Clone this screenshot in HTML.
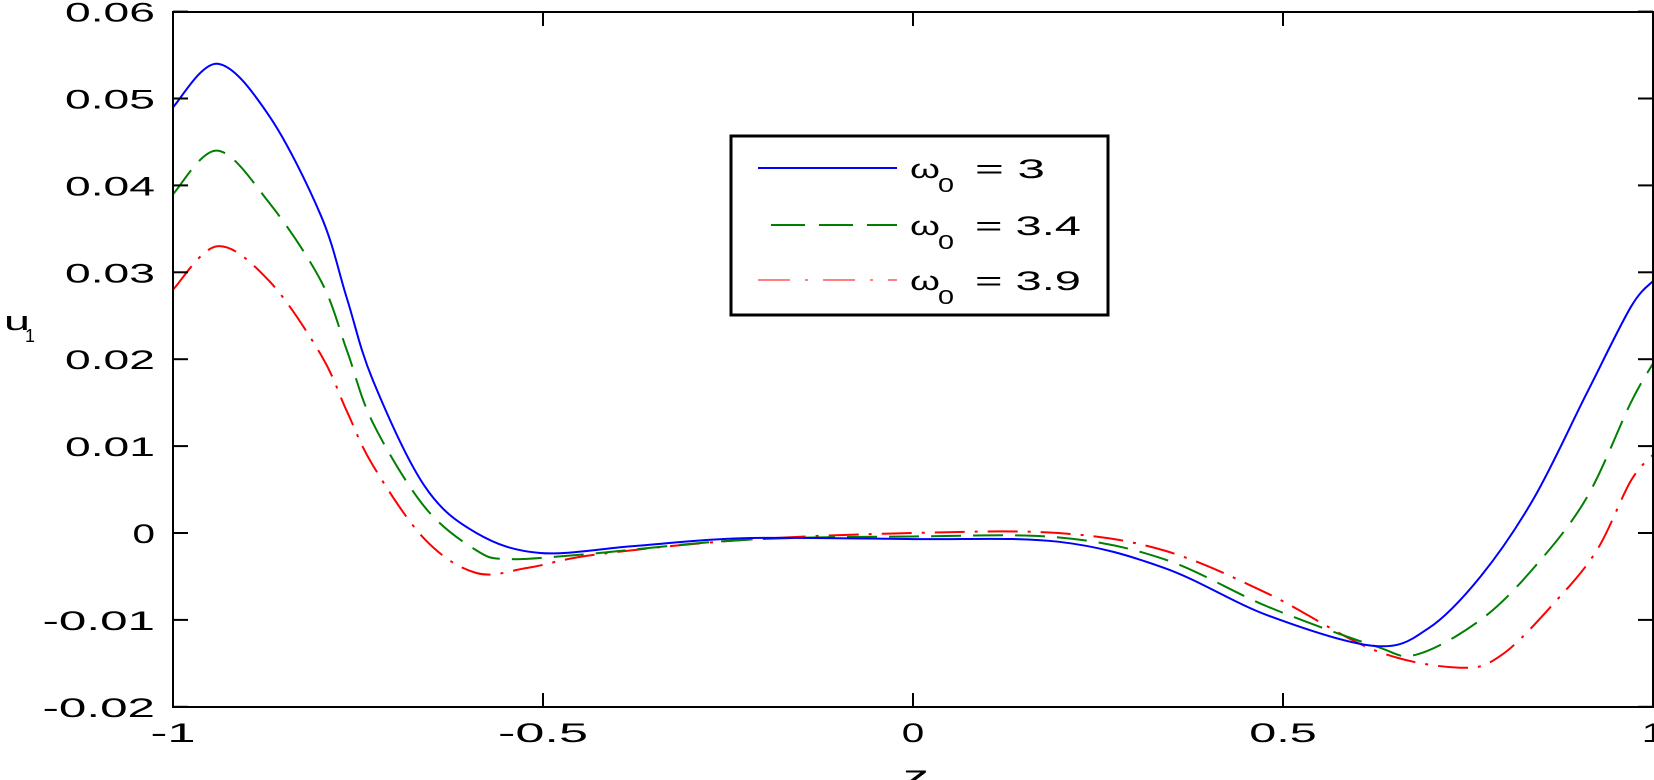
<!DOCTYPE html>
<html><head><meta charset="utf-8"><style>
html,body{margin:0;padding:0;background:#fff;}
svg{display:block;font-family:"Liberation Sans",sans-serif;}
</style></head><body>
<svg id="s" width="1654" height="780" viewBox="0 0 1654 780" xmlns="http://www.w3.org/2000/svg">
<rect width="1654" height="780" fill="#fff"/>
<g id="curves" fill="none"></g>
<rect x="173" y="12" width="1480" height="695" fill="none" stroke="#000" stroke-width="2"/>
<g id="ticks" stroke="#000" stroke-width="2"></g>
<g id="labels" font-size="27" fill="#000"></g>
<text x="4" y="330" font-size="27" textLength="26" lengthAdjust="spacingAndGlyphs">u</text>
<text x="25" y="342" font-size="18">1</text>
<text x="903" y="786" font-size="30" textLength="26" lengthAdjust="spacingAndGlyphs">z</text>
<rect x="731" y="136" width="377" height="179" fill="#fff" stroke="#000" stroke-width="3"/>
<line x1="758" y1="168" x2="897" y2="168" stroke="#0000ff" stroke-width="2"/>
<line x1="771" y1="225" x2="897" y2="225" stroke="#008000" stroke-width="2" stroke-dasharray="34,14"/>
<line x1="758" y1="280" x2="897" y2="280" stroke="#ff8080" stroke-width="2" stroke-dasharray="32,15,3,15"/>
<g font-size="27" fill="#000">
<text x="910" y="178" textLength="30" lengthAdjust="spacingAndGlyphs">ω</text><text x="938" y="192" font-size="20" textLength="16" lengthAdjust="spacingAndGlyphs">0</text><text x="975" y="178" textLength="70" lengthAdjust="spacingAndGlyphs">= 3</text>
<text x="910" y="235" textLength="30" lengthAdjust="spacingAndGlyphs">ω</text><text x="938" y="249" font-size="20" textLength="16" lengthAdjust="spacingAndGlyphs">0</text><text x="975" y="235" textLength="106" lengthAdjust="spacingAndGlyphs">= 3.4</text>
<text x="910" y="290" textLength="30" lengthAdjust="spacingAndGlyphs">ω</text><text x="938" y="304" font-size="20" textLength="16" lengthAdjust="spacingAndGlyphs">0</text><text x="975" y="290" textLength="106" lengthAdjust="spacingAndGlyphs">= 3.9</text>
</g>
</svg>
<script>
var NS="http://www.w3.org/2000/svg";
function X(z){return 173+(z+1)*740;}
function Y(v){return 533-v*8690;}
function el(t,a,p){var e=document.createElementNS(NS,t);for(var k in a)e.setAttribute(k,a[k]);p.appendChild(e);return e;}
var tk=document.getElementById("ticks"),lb=document.getElementById("labels");
var yv=[0.06,0.05,0.04,0.03,0.02,0.01,0,-0.01,-0.02];
yv.forEach(function(v){var y=Y(v);el("line",{x1:173,y1:y,x2:188,y2:y},tk);el("line",{x1:1638,y1:y,x2:1653,y2:y},tk);
 var s=v===0?"0":v.toFixed(2);var t=el("text",{x:155,y:y+10,"text-anchor":"end",textLength:s.length*22.5,lengthAdjust:"spacingAndGlyphs"},lb);t.textContent=s;});
[-1,-0.5,0,0.5,1].forEach(function(z){var x=X(z);el("line",{x1:x,y1:707,x2:x,y2:693},tk);el("line",{x1:x,y1:12,x2:x,y2:26},tk);
 var s=String(z);var t=el("text",{x:x,y:742,"text-anchor":"middle",textLength:s.length*22.5,lengthAdjust:"spacingAndGlyphs"},lb);t.textContent=s;});
var blue=[[-1,0.049],[-0.94,0.054],[-0.87,0.048],[-0.80,0.0365],[-0.765,0.027],[-0.73,0.0176],[-0.66,0.0054],[-0.59,0],[-0.504,-0.0023],[-0.376,-0.0015],[-0.23,-0.0006],[0,-0.0007],[0.196,-0.001],[0.339,-0.004],[0.48,-0.0095],[0.624,-0.013],[0.696,-0.011],[0.767,-0.005],[0.839,0.004],[0.91,0.016],[0.97,0.026],[1,0.029]];
var green=[[-1,0.039],[-0.94,0.044],[-0.87,0.038],[-0.80,0.029],[-0.765,0.021],[-0.73,0.0127],[-0.66,0.003],[-0.59,-0.002],[-0.547,-0.003],[-0.45,-0.0025],[-0.23,-0.0008],[0,-0.0004],[0.196,-0.0005],[0.339,-0.003],[0.48,-0.0085],[0.624,-0.013],[0.68,-0.014],[0.767,-0.01],[0.839,-0.004],[0.91,0.004],[0.97,0.015],[1,0.0195]];
var red=[[-1,0.028],[-0.94,0.033],[-0.87,0.029],[-0.80,0.0205],[-0.765,0.014],[-0.73,0.0078],[-0.66,-0.0007],[-0.59,-0.0046],[-0.52,-0.004],[-0.43,-0.0025],[-0.23,-0.0008],[0,0],[0.196,0],[0.339,-0.002],[0.48,-0.007],[0.624,-0.0135],[0.739,-0.0155],[0.796,-0.014],[0.867,-0.008],[0.924,-0.002],[0.97,0.006],[1,0.009]];
function path(d){var p=d.map(function(a){return [X(a[0]),Y(a[1])];});var s="M"+p[0][0]+","+p[0][1];
 for(var i=0;i<p.length-1;i++){var p0=p[Math.max(0,i-1)],p1=p[i],p2=p[i+1],p3=p[Math.min(p.length-1,i+2)];
 var c1x=p1[0]+(p2[0]-p0[0])/6,c1y=p1[1]+(p2[1]-p0[1])/6,c2x=p2[0]-(p3[0]-p1[0])/6,c2y=p2[1]-(p3[1]-p1[1])/6;
 s+=" C"+c1x+","+c1y+" "+c2x+","+c2y+" "+p2[0]+","+p2[1];}return s;}
var g=document.getElementById("curves");
el("path",{d:path(red),stroke:"#ff0000","stroke-width":2,"stroke-dasharray":"30,10,3,10"},g);
el("path",{d:path(green),stroke:"#008000","stroke-width":2,"stroke-dasharray":"30,12"},g);
el("path",{d:path(blue),stroke:"#0000ff","stroke-width":2},g);
</script>
</body></html>
